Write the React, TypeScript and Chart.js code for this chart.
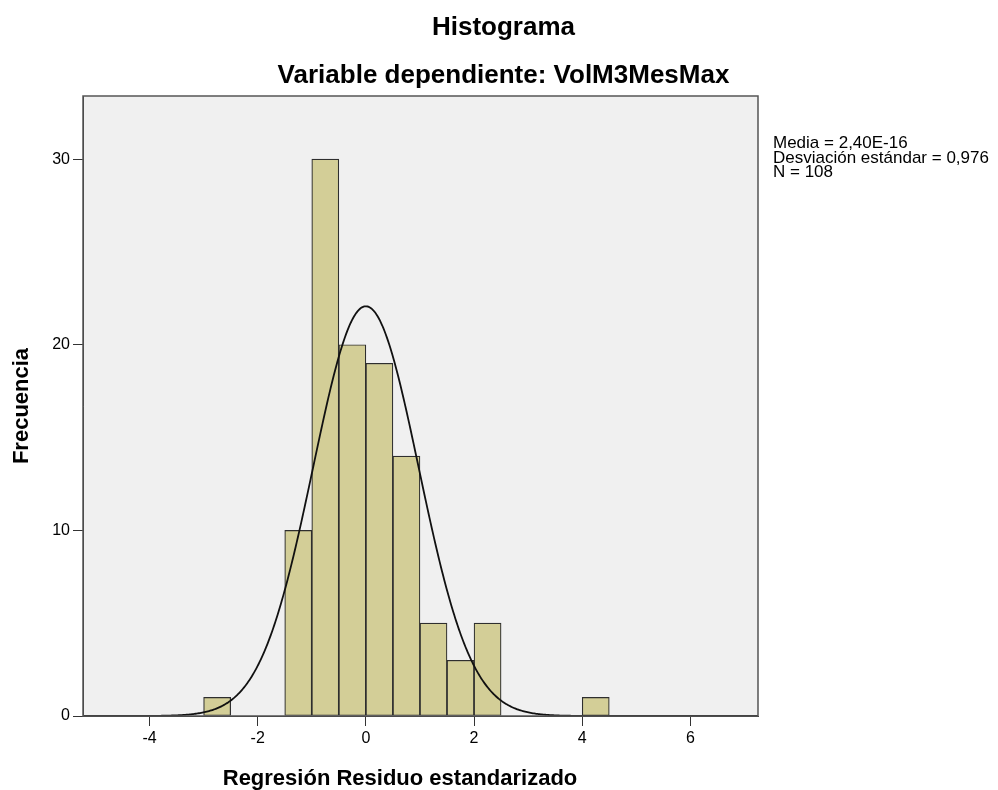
import React, { useEffect, useRef } from "react";
import { Chart, registerables } from "chart.js";

Chart.register(...registerables);

// ---- Data ----
const binCenters: number[] = [-2.75, -1.25, -0.75, -0.25, 0.25, 0.75, 1.25, 1.75, 2.25, 4.25];
const frequencies: number[] = [1, 10, 30, 20, 19, 14, 5, 3, 5, 1];
const xTickValues: number[] = [-4, -2, 0, 2, 4, 6];
const yTickValues: number[] = [0, 10, 20, 30];
const statMean = 2.4e-16;
const statSD = 0.976;
const statN = 108;
const binWidth = 0.5;
const statLines: string[] = ["Media = 2,40E-16", "Desviación estándar = 0,976", "N = 108"];
const titleText = "Histograma";
const subtitleText = "Variable dependiente: VolM3MesMax";
const xTitle = "Regresión Residuo estandarizado";
const yTitle = "Frecuencia";
const xMin = -5.23;
const xMax = 7.25;
const yMax = 33.4;

// Fitted normal curve defined by the chart's own statistics (Media, SD, N)
function normalCurve() {
  const pts: { x: number; y: number }[] = [];
  const steps = 600;
  for (let i = 0; i <= steps; i++) {
    const x = xMin + ((xMax - xMin) * i) / steps;
    const z = (x - statMean) / statSD;
    const y = (statN * binWidth * Math.exp(-0.5 * z * z)) / (statSD * Math.sqrt(2 * Math.PI));
    pts.push({ x, y });
  }
  return pts;
}

const FONT = "'Liberation Sans', Arial, Helvetica, sans-serif";

export default function App() {
  const ref = useRef<HTMLCanvasElement | null>(null);

  useEffect(() => {
    if (!ref.current) return;
    const frame = {
      id: "frame",
      beforeDraw(chart: any) {
        const { ctx, chartArea } = chart;
        ctx.save();
        ctx.fillStyle = "#f0f0f0";
        ctx.fillRect(chartArea.left, chartArea.top, chartArea.right - chartArea.left, chartArea.bottom - chartArea.top);
        ctx.restore();
      },
      afterDraw(chart: any) {
        const { ctx, chartArea } = chart;
        ctx.save();
        ctx.strokeStyle = "#555555";
        ctx.lineWidth = 1.5;
        ctx.strokeRect(chartArea.left, chartArea.top, chartArea.right - chartArea.left, chartArea.bottom - chartArea.top);
        ctx.fillStyle = "#000";
        ctx.font = `17px ${FONT}`;
        ctx.textAlign = "left";
        ctx.textBaseline = "alphabetic";
        const baselines = [148, 162.5, 177];
        statLines.forEach((s, i) => ctx.fillText(s, chartArea.right + 15, baselines[i]));
        ctx.font = `bold 22px ${FONT}`;
        ctx.textAlign = "center";
        ctx.textBaseline = "middle";
        ctx.fillText(xTitle, 400, 779);
        ctx.restore();
      },
    };

    const chart = new Chart(ref.current, {
      type: "bar",
      data: {
        datasets: [
          {
            type: "line",
            data: normalCurve(),
            borderColor: "#111111",
            borderWidth: 1.8,
            pointRadius: 0,
            tension: 0,
            order: 0,
            yAxisID: "y",
            xAxisID: "x",
          } as any,
          {
            type: "bar",
            data: binCenters.map((c, i) => ({ x: c, y: frequencies[i] })),
            backgroundColor: "#d3ce97",
            borderColor: "#2e2e2e",
            borderWidth: 1.2,
            borderSkipped: false,
            barPercentage: 1,
            categoryPercentage: 1,
            order: 1,
            yAxisID: "y",
            xAxisID: "x",
          } as any,
        ],
      },
      options: {
        responsive: false,
        animation: false,
        devicePixelRatio: 1,
        layout: { padding: { left: 9, right: 0, top: 0, bottom: 0 } },
        plugins: {
          legend: { display: false },
          tooltip: { enabled: false },
          title: {
            display: true,
            text: titleText,
            color: "#000",
            font: { family: FONT, size: 26, weight: "bold" },
            padding: { top: 12, bottom: 8 },
          },
          subtitle: {
            display: true,
            text: subtitleText,
            color: "#000",
            font: { family: FONT, size: 26, weight: "bold" },
            padding: { top: 8.7, bottom: 4.9 },
          },
        },
        scales: {
          x: {
            type: "linear",
            min: xMin,
            max: xMax,
            offset: false,
            afterBuildTicks(scale: any) {
              scale.ticks = xTickValues.map((v) => ({ value: v }));
            },
            afterFit(scale: any) {
              scale.height = 74;
            },
            grid: {
              display: true,
              drawOnChartArea: false,
              drawTicks: true,
              tickLength: 10,
              color: "#333",
              offset: false,
            },
            border: { display: true, color: "#333", width: 1 },
            ticks: {
              color: "#000",
              padding: 3,
              font: { family: FONT, size: 16 },
              maxRotation: 0,
              autoSkip: false,
              callback: (v: any) => String(v),
            },
          },
          y: {
            type: "linear",
            position: "left",
            min: 0,
            max: yMax,
            afterBuildTicks(scale: any) {
              scale.ticks = yTickValues.map((v) => ({ value: v }));
            },
            afterFit(scale: any) {
              scale.width = 74;
            },
            grid: {
              display: true,
              drawOnChartArea: false,
              drawTicks: true,
              tickLength: 10,
              color: "#333",
            },
            border: { display: true, color: "#333", width: 1 },
            ticks: {
              color: "#000",
              padding: 3,
              font: { family: FONT, size: 16 },
              autoSkip: false,
              callback: (v: any) => String(v),
            },
            title: {
              display: true,
              text: yTitle,
              color: "#000",
              font: { family: FONT, size: 22, weight: "bold", lineHeight: 1 },
              padding: { top: 2, bottom: 0 },
            },
          },
          y2: {
            type: "linear",
            position: "right",
            display: true,
            afterFit(scale: any) {
              scale.width = 240;
            },
            grid: { display: false, drawTicks: false },
            border: { display: false },
            ticks: { display: false },
          },
        },
      },
      plugins: [frame],
    } as any);

    return () => chart.destroy();
  }, []);

  return (
    <div style={{ position: "absolute", left: 0, top: 0, width: 998, height: 790 }}>
      <canvas ref={ref} width={998} height={790} style={{ display: "block", width: 998, height: 790 }} />
    </div>
  );
}
